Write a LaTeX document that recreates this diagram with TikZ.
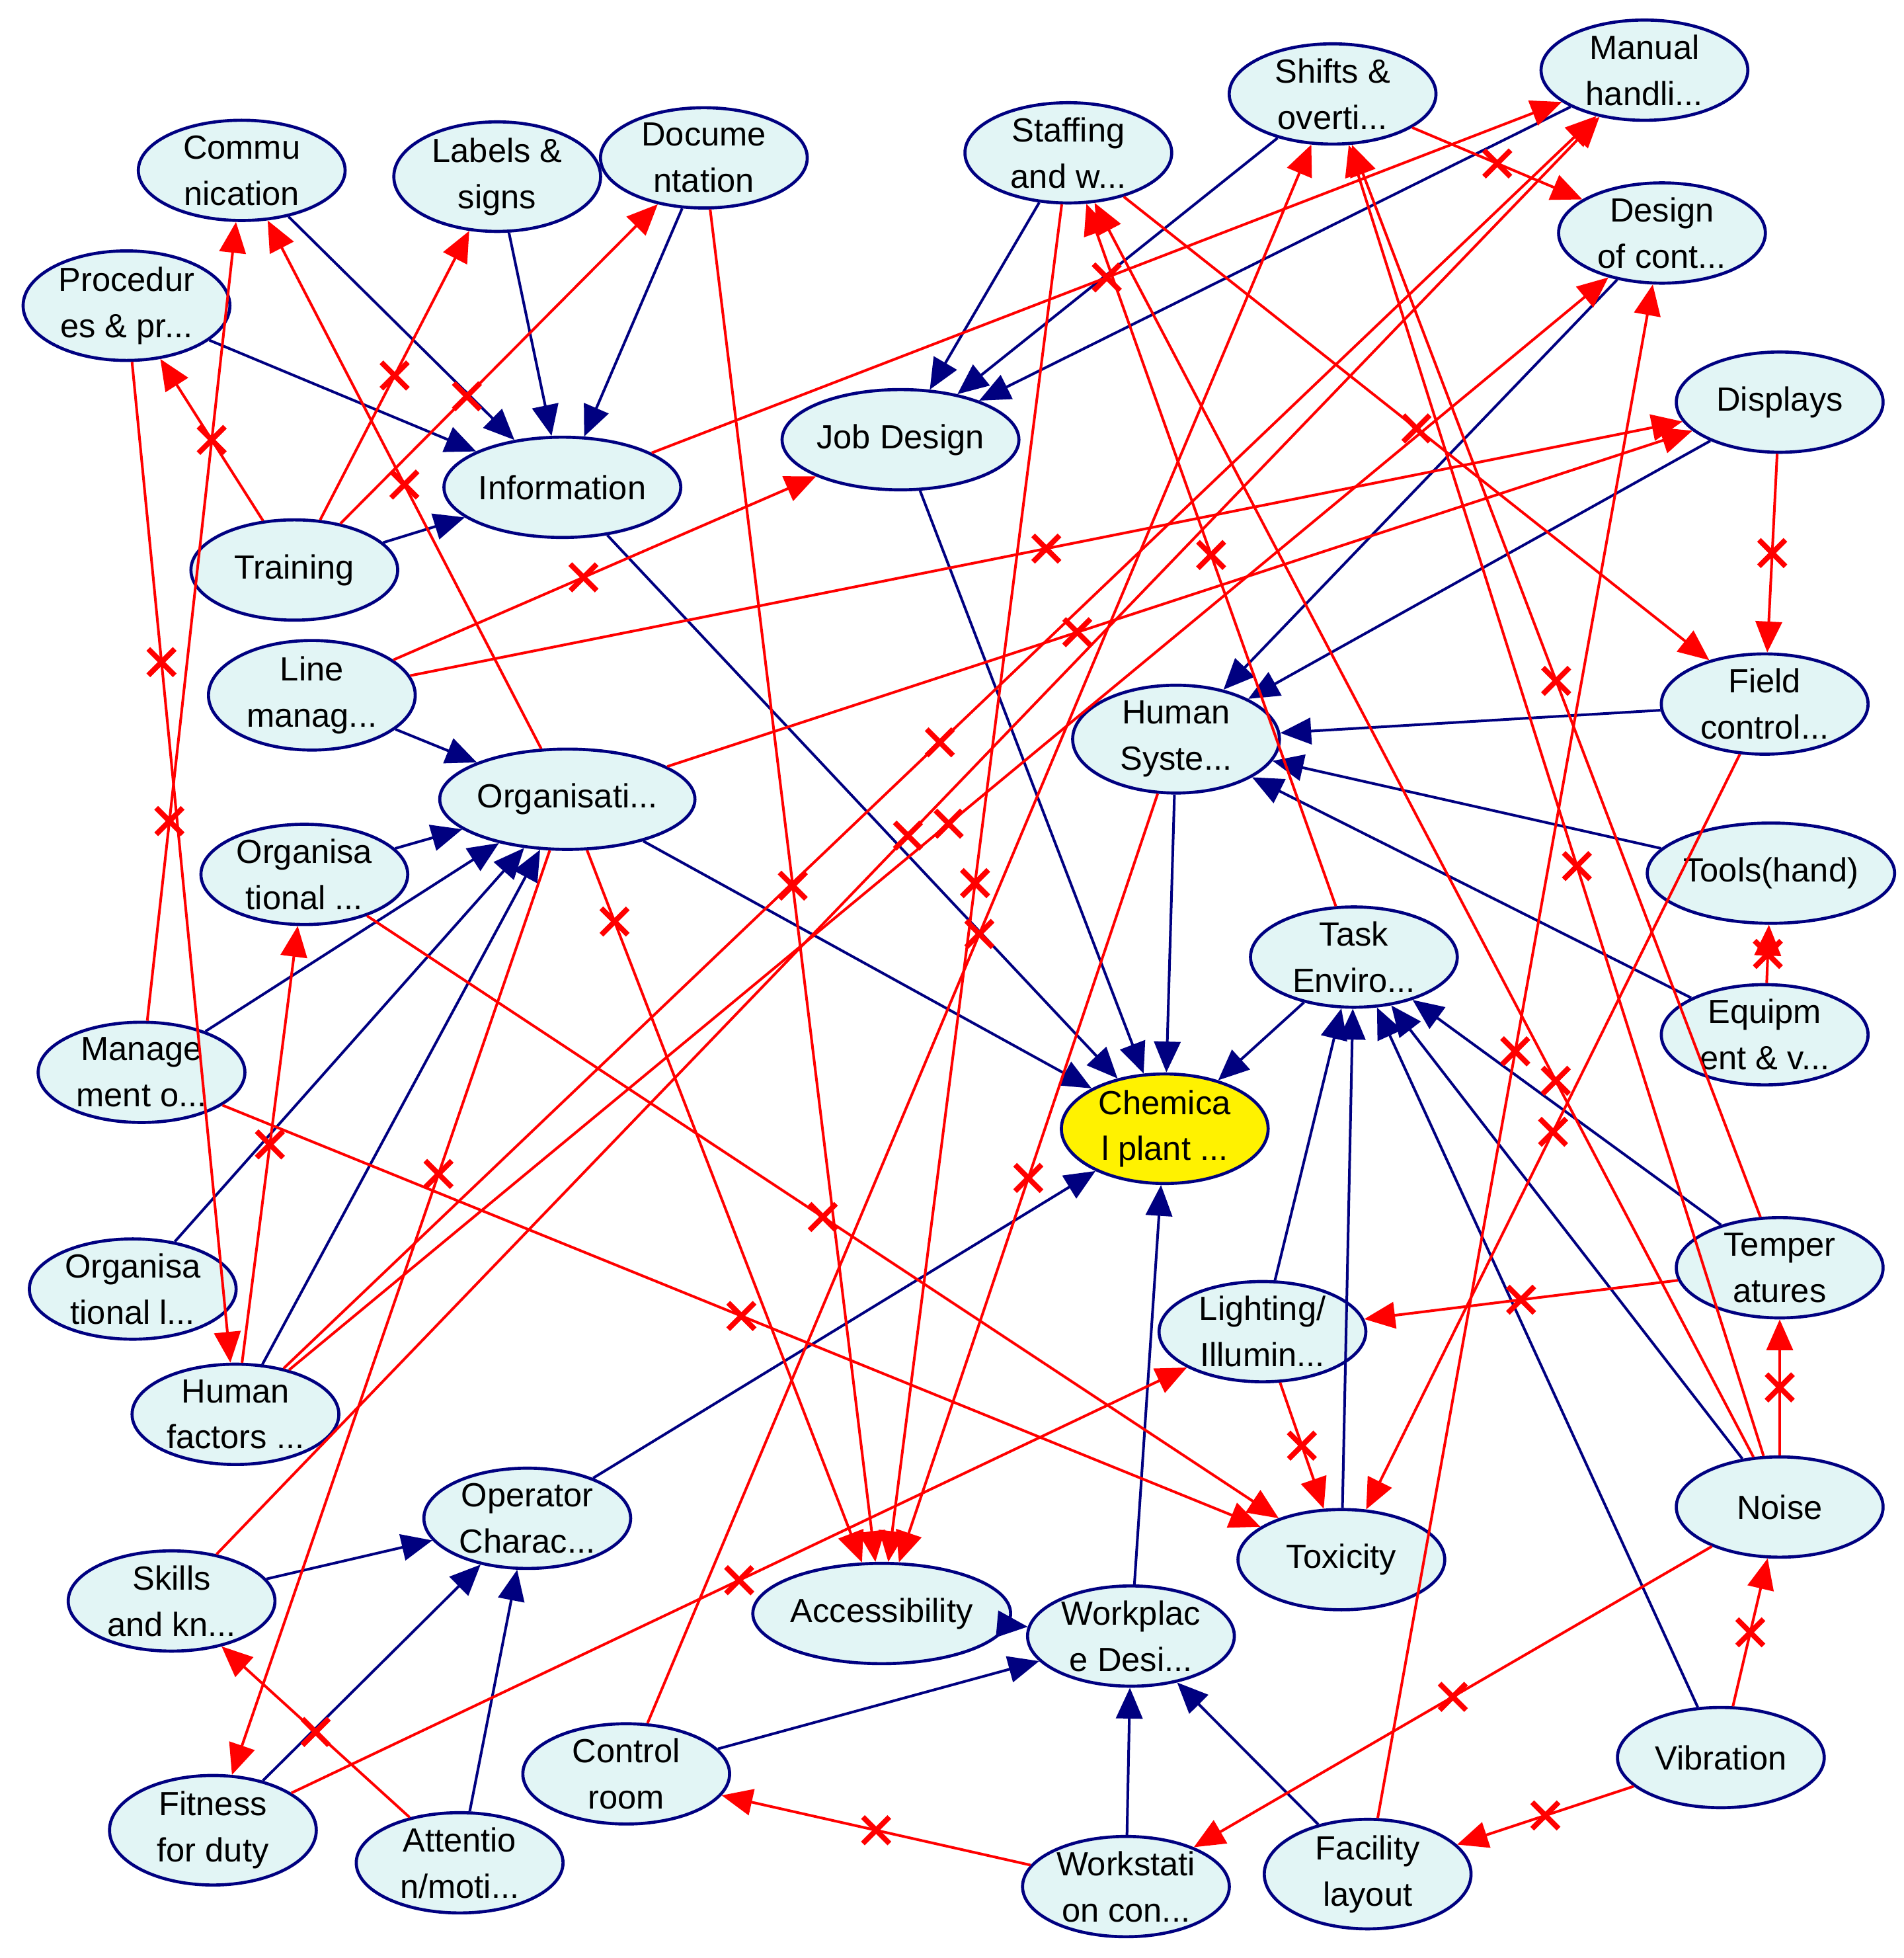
\documentclass[tikz,border=0pt]{standalone}
\usepackage{fontspec}
\setmainfont{Liberation Sans}
\usetikzlibrary{arrows.meta,decorations.markings,shapes.geometric}
\definecolor{nv}{HTML}{000080}
\definecolor{rd}{HTML}{FF0000}
\definecolor{cy}{HTML}{E2F5F5}
\begin{document}
\begin{tikzpicture}[x=0.01cm,y=-0.01cm,
 n/.style={ellipse,draw=nv,line width=0.7pt,fill=cy,minimum width=1.65cm,minimum height=0.8cm,inner sep=0pt,align=center,font=\fontsize{7.6}{10.5}\selectfont},
 b/.style={draw=nv,line width=0.6pt,-{Triangle[length=7pt,width=6pt]}},
 r/.style={draw=rd,line width=0.6pt,-{Triangle[length=7pt,width=6pt]},
   postaction={decorate,decoration={markings,mark=at position #1 with {\pgftransformresetnontranslations\draw[rd,line width=1.2pt,-] (-3pt,-3pt)--(3pt,3pt) (-3pt,3pt)--(3pt,-3pt);}}}},
 r/.default=0.5]
\useasboundingbox (0,0) rectangle (1520,1563);
\fill[white] (0,0) rectangle (1520,1563);
\node[n] (com) at (193,136) {Commu\\nication};
\node[n] (lab) at (397,141) {Labels \&\\signs};
\node[n] (doc) at (562,126) {Docume\\ntation};
\node[n] (sta) at (853,122) {Staffing\\and w...};
\node[n] (shi) at (1064,75) {Shifts \&\\overti...};
\node[n] (man) at (1313,56) {Manual\\handli...};
\node[n] (dco) at (1327,186) {Design\\of cont...};
\node[n] (pro) at (101,244) {Procedur\\es \& pr...};
\node[n] (inf) at (449,389) {Information};
\node[n] (job) at (719,351) {Job Design};
\node[n] (dis) at (1421,321) {Displays};
\node[n] (tra) at (235,455) {Training};
\node[n] (lin) at (249,555) {Line\\manag...};
\node[n] (hsy) at (939,590) {Human\\Syste...};
\node[n] (fie) at (1409,562) {Field\\control...};
\node[n] (org) at (453,638) {Organisati...};
\node[n] (ogt) at (243,698) {Organisa\\tional ...};
\node[n] (too) at (1414,697) {Tools(hand)};
\node[n] (tas) at (1081,764) {Task\\Enviro...};
\node[n] (equ) at (1409,826) {Equipm\\ent \& v...};
\node[n] (mgt) at (113,856) {Manage\\ment o...};
\node[n,fill=yellow] (che) at (930,901) {Chemica\\l plant ...};
\node[n] (ogl) at (106,1029) {Organisa\\tional l...};
\node[n] (tem) at (1421,1012) {Temper\\atures};
\node[n] (lig) at (1008,1063) {Lighting/\\Illumin...};
\node[n] (hfa) at (188,1129) {Human\\factors ...};
\node[n] (opc) at (421,1212) {Operator\\Charac...};
\node[n] (noi) at (1421,1203) {Noise};
\node[n] (tox) at (1071,1245) {Toxicity};
\node[n] (ski) at (137,1278) {Skills\\and kn...};
\node[n] (acc) at (704,1288) {Accessibility};
\node[n] (wpd) at (903,1306) {Workplac\\e Desi...};
\node[n] (con) at (500,1416) {Control\\room};
\node[n] (vib) at (1374,1403) {Vibration};
\node[n] (fit) at (170,1461) {Fitness\\for duty};
\node[n] (att) at (367,1487) {Attentio\\n/moti...};
\node[n] (wst) at (899,1506) {Workstati\\on con...};
\node[n] (fac) at (1092,1496) {Facility\\layout};
% blue
\foreach \a/\c in {com/inf,lab/inf,doc/inf,pro/inf,tra/inf,sta/job,shi/job,man/job,
 inf/che,job/che,hsy/che,tas/che,org/che,dis/hsy,dco/hsy,fie/hsy,too/hsy,equ/hsy,
 lin/org,ogt/org,mgt/org,ogl/org,hfa/org,lig/tas,tox/tas,noi/tas,vib/tas,tem/tas,
 opc/che,wpd/che,ski/opc,fit/opc,att/opc,acc/wpd,con/wpd,wst/wpd,fac/wpd}
 \draw[b] (\a) -- (\c);
% red
\draw[r] (tra) -- (pro);
\draw[r] (tra) -- (lab);
\draw[r=0.4] (tra) -- (doc);
\draw[r=0.3] (pro) -- (hfa);
\draw[r=0.25] (mgt) -- (com);
\draw[r] (org) -- (com);
\draw[r=0.45] (lin) -- (job);
\draw[r] (lin) -- (dis);
\draw[r=0.4] (org) -- (dis);
\draw[r] (inf) -- (man);
\draw[r] (doc) -- (acc);
\draw[r] (sta) -- (acc);
\draw[r] (sta) -- (fie);
\draw[r] (shi) -- (dco);
\draw[r] (hfa) -- (man);
\draw[r] (hfa) -- (dco);
\draw[r] (ski) -- (man);
\draw[r] (ogt) -- (tox);
\draw[r] (mgt) -- (tox);
\draw[r] (hfa) -- (ogt);
\draw[r=0.35] (org) -- (fit);
\draw[r=0.1] (org) -- (acc);
\draw[r] (att) -- (ski);
\draw[r] (fit) -- (lig);
\draw[r] (noi) -- (wst);
\draw[r] (vib) -- (noi);
\draw[r] (noi) -- (tem);
\draw[r] (equ) -- (too);
\draw[r] (dis) -- (fie);
\draw[r] (tem) -- (lig);
\draw[r] (lig) -- (tox);
\draw[r] (hsy) -- (acc);
\draw[r] (tas) -- (sta);
\draw[r=0.3] (noi) -- (sta);
\draw[r=0.45] (noi) -- (shi);
\draw[r=0.5] (tem) -- (shi);
\draw[r] (fie) -- (tox);
\draw[r] (con) -- (shi);
\draw[r] (fac) -- (dco);
\draw[r] (vib) -- (fac);
\draw[r] (wst) -- (con);
\end{tikzpicture}
\end{document}
